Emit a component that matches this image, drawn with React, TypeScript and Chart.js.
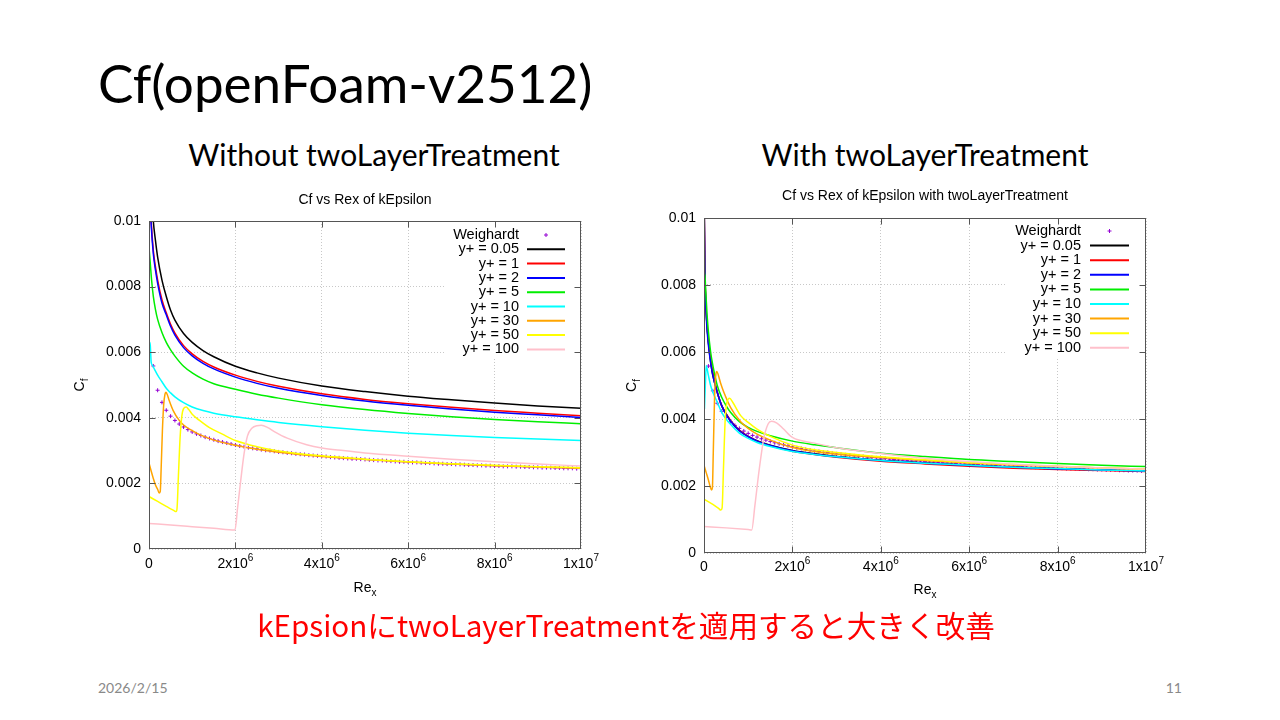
import React, { useEffect, useRef } from "react";
import { Chart, registerables } from "chart.js";

Chart.register(...registerables);

// ---------- shared axis / legend data ----------
const X_TICKS = [0, 2e6, 4e6, 6e6, 8e6, 1e7];
const X_TICK_BASE = ["0", "2x10", "4x10", "6x10", "8x10", "1x10"];
const X_TICK_EXP = ["", "6", "6", "6", "6", "7"];
const Y_TICKS = [0, 0.002, 0.004, 0.006, 0.008, 0.01];
const SERIES_LABELS = ["Weighardt", "y+ = 0.05", "y+ = 1", "y+ = 2", "y+ = 5", "y+ = 10", "y+ = 30", "y+ = 50", "y+ = 100"];
const SERIES_COLORS = ["#9400d3", "#000000", "#ff0000", "#0000ff", "#00ee00", "#00ffff", "#ffa500", "#ffff00", "#ffc0cb"];

// ---------- Weighardt reference points (Re in millions) ----------
const WEIGHARDT_RE = [
  0.1, 0.2, 0.3, 0.4, 0.5, 0.6, 0.7, 0.8, 0.9, 1.0,
  1.1, 1.2, 1.3, 1.4, 1.5, 1.6, 1.7, 1.8, 1.9, 2.0,
  2.1, 2.2, 2.3, 2.4, 2.5, 2.6, 2.7, 2.8, 2.9, 3.0,
  3.1, 3.2, 3.3, 3.4, 3.5, 3.6, 3.7, 3.8, 3.9, 4.0,
  4.1, 4.2, 4.3, 4.4, 4.5, 4.6, 4.7, 4.8, 4.9, 5.0,
  5.1, 5.2, 5.3, 5.4, 5.5, 5.6, 5.7, 5.8, 5.9, 6.0,
  6.1, 6.2, 6.3, 6.4, 6.5, 6.6, 6.7, 6.8, 6.9, 7.0,
  7.1, 7.2, 7.3, 7.4, 7.5, 7.6, 7.7, 7.8, 7.9, 8.0,
  8.1, 8.2, 8.3, 8.4, 8.5, 8.6, 8.7, 8.8, 8.9, 9.0,
  9.1, 9.2, 9.3, 9.4, 9.5, 9.6, 9.7, 9.8, 9.9, 10.0,
];
const WEIGHARDT_CF = [
  0.00558, 0.00484, 0.00447, 0.00423, 0.00405, 0.00392, 0.00381, 0.00372, 0.00364, 0.00357,
  0.00351, 0.00346, 0.00341, 0.00337, 0.00333, 0.00329, 0.00326, 0.00323, 0.0032, 0.00317,
  0.00314, 0.00312, 0.00309, 0.00307, 0.00305, 0.00303, 0.00301, 0.003, 0.00298, 0.00296,
  0.00295, 0.00293, 0.00292, 0.0029, 0.00289, 0.00288, 0.00286, 0.00285, 0.00284, 0.00283,
  0.00282, 0.0028, 0.00279, 0.00278, 0.00277, 0.00276, 0.00275, 0.00275, 0.00274, 0.00273,
  0.00272, 0.00271, 0.0027, 0.0027, 0.00269, 0.00268, 0.00267, 0.00266, 0.00266, 0.00265,
  0.00264, 0.00264, 0.00263, 0.00262, 0.00262, 0.00261, 0.0026, 0.0026, 0.00259, 0.00259,
  0.00258, 0.00258, 0.00257, 0.00256, 0.00256, 0.00255, 0.00255, 0.00254, 0.00254, 0.00253,
  0.00253, 0.00252, 0.00252, 0.00252, 0.00251, 0.00251, 0.0025, 0.0025, 0.00249, 0.00249,
  0.00248, 0.00248, 0.00248, 0.00247, 0.00247, 0.00246, 0.00246, 0.00246, 0.00245, 0.00245,
];

// ---------- Left chart: kEpsilon (Re in millions) ----------
const L_SMOOTH_RE = [0.05, 0.1, 0.15, 0.2, 0.3, 0.4, 0.5, 0.6, 0.8, 1.0, 1.25, 1.5, 2, 2.5, 3, 4, 5, 6, 7, 8, 9, 10];
const L_BLACK_CF = [0.0112, 0.01, 0.0094, 0.0089, 0.0082, 0.0077, 0.00728, 0.00698, 0.00657, 0.0063, 0.00605, 0.00586, 0.00557, 0.00537, 0.00521, 0.00497, 0.0048, 0.00466, 0.00455, 0.00445, 0.00436, 0.00429];
const L_RB_RE = [0.03, 0.05, 0.1, 0.15, 0.2, 0.3, 0.4, 0.5, 0.6, 0.8, 1.0, 1.25, 1.5, 2, 2.5, 3, 4, 5, 6, 7, 8, 9, 10];
const L_RED_CF = [0.0106, 0.01, 0.0091, 0.0086, 0.0082, 0.0076, 0.0072, 0.00685, 0.00658, 0.0062, 0.00595, 0.00572, 0.00555, 0.0053, 0.00511, 0.00496, 0.00473, 0.00456, 0.00443, 0.00432, 0.00422, 0.00414, 0.00406];
const L_BLUE_CF = [0.0105, 0.0099, 0.009, 0.0085, 0.0081, 0.0075, 0.00714, 0.00679, 0.00652, 0.00614, 0.00589, 0.00566, 0.00549, 0.00524, 0.00505, 0.0049, 0.00468, 0.00451, 0.00438, 0.00427, 0.00417, 0.00409, 0.00401];
const L_GREEN_RE = [0, 0.03, 0.06, 0.1, 0.15, 0.2, 0.3, 0.4, 0.5, 0.6, 0.8, 1.0, 1.25, 1.5, 2, 2.5, 3, 4, 5, 6, 7, 8, 9, 10];
const L_GREEN_CF = [0.0092, 0.0087, 0.0082, 0.0077, 0.0073, 0.007, 0.0066, 0.0063, 0.00607, 0.00588, 0.00557, 0.00537, 0.00518, 0.00504, 0.00487, 0.00472, 0.0046, 0.0044, 0.00425, 0.00413, 0.00403, 0.00395, 0.00388, 0.00382];
const L_CYAN_RE = [0, 0.015, 0.03, 0.05, 0.08, 0.12, 0.2, 0.3, 0.4, 0.5, 0.6, 0.8, 1.0, 1.25, 1.5, 2, 2.5, 3, 4, 5, 6, 7, 8, 9, 10];
const L_CYAN_CF = [0.006, 0.0063, 0.0062, 0.0057, 0.0056, 0.0055, 0.0053, 0.0051, 0.0049, 0.00476, 0.00464, 0.00446, 0.00433, 0.00422, 0.00414, 0.00403, 0.00394, 0.00386, 0.00373, 0.00362, 0.00353, 0.00346, 0.0034, 0.00335, 0.00331];
const L_ORANGE_RE = [0, 0.05, 0.1, 0.15, 0.2, 0.235, 0.26, 0.28, 0.31, 0.34, 0.37, 0.39, 0.42, 0.47, 0.56, 0.7, 0.8, 1.0, 1.2, 1.5, 2, 2.5, 3, 4, 5, 6, 7, 8, 9, 10];
const L_ORANGE_CF = [0.00262, 0.00238, 0.00215, 0.00195, 0.00182, 0.00171, 0.00175, 0.0024, 0.0036, 0.0044, 0.00472, 0.00478, 0.00472, 0.00452, 0.00422, 0.00392, 0.00378, 0.00361, 0.00347, 0.00332, 0.00316, 0.00304, 0.00295, 0.00282, 0.00273, 0.00265, 0.00259, 0.00254, 0.0025, 0.00246];
const L_YELLOW_RE = [0, 0.2, 0.4, 0.55, 0.6, 0.63, 0.65, 0.68, 0.72, 0.76, 0.8, 0.86, 0.92, 1.0, 1.1, 1.2, 1.4, 1.7, 2, 2.5, 3, 4, 5, 6, 7, 8, 9, 10];
const L_YELLOW_CF = [0.0016, 0.00145, 0.0013, 0.00119, 0.00115, 0.00114, 0.00125, 0.0022, 0.0034, 0.00405, 0.00428, 0.00433, 0.00425, 0.00411, 0.00399, 0.00389, 0.0037, 0.0035, 0.00331, 0.00312, 0.00299, 0.00284, 0.00274, 0.00266, 0.0026, 0.00255, 0.00251, 0.00248];
const L_PINK_RE = [0, 0.5, 1.0, 1.5, 1.99, 2.05, 2.12, 2.2, 2.28, 2.38, 2.5, 2.6, 2.75, 2.9, 3.2, 3.65, 4.0, 4.5, 5, 6, 7, 8, 9, 10];
const L_PINK_CF = [0.00078, 0.00073, 0.00068, 0.00063, 0.00058, 0.00125, 0.00205, 0.0029, 0.00345, 0.00368, 0.00376, 0.00377, 0.0037, 0.00358, 0.00338, 0.00318, 0.00308, 0.003, 0.00293, 0.00283, 0.00274, 0.00266, 0.00259, 0.00253];

// ---------- Right chart: kEpsilon with twoLayerTreatment (Re in millions) ----------
const R_CLUSTER_RE = [0, 0.02, 0.05, 0.1, 0.15, 0.2, 0.3, 0.4, 0.5, 0.6, 0.8, 1.0, 1.2, 1.5, 2, 2.5, 3, 4, 5, 6, 7, 8, 9, 10];
const R_BLACK_CF = [0.011, 0.0085, 0.0072, 0.0063, 0.0057, 0.0053, 0.0048, 0.0044, 0.00415, 0.00395, 0.00366, 0.00348, 0.00335, 0.00322, 0.00306, 0.00296, 0.00288, 0.00277, 0.00269, 0.00262, 0.00256, 0.00252, 0.00248, 0.00245];
const R_RED_CF = [0.011, 0.0085, 0.0072, 0.0063, 0.0058, 0.0054, 0.0048, 0.0044, 0.00416, 0.00396, 0.00366, 0.00348, 0.00334, 0.0032, 0.00304, 0.00294, 0.00286, 0.00274, 0.00266, 0.00259, 0.00253, 0.00249, 0.00246, 0.00243];
const R_BLUE_CF = [0.011, 0.0084, 0.0071, 0.0062, 0.0057, 0.0053, 0.0048, 0.0044, 0.00414, 0.00394, 0.00365, 0.00347, 0.00334, 0.00321, 0.00305, 0.00295, 0.00287, 0.00276, 0.00268, 0.00261, 0.00256, 0.00251, 0.00248, 0.00245];
const R_GREEN_RE = [0, 0.01, 0.02, 0.04, 0.07, 0.1, 0.15, 0.2, 0.3, 0.4, 0.5, 0.6, 0.8, 1.0, 1.2, 1.5, 2, 2.5, 3, 4, 5, 6, 7, 8, 9, 10];
const R_GREEN_CF = [0.0105, 0.0084, 0.0083, 0.0078, 0.0071, 0.0066, 0.006, 0.0056, 0.005, 0.00465, 0.0044, 0.0042, 0.00392, 0.00375, 0.00363, 0.0035, 0.00334, 0.00323, 0.00314, 0.00298, 0.00288, 0.00279, 0.00273, 0.00267, 0.00262, 0.00258];
const R_CYAN_RE = [0.01, 0.03, 0.05, 0.07, 0.1, 0.15, 0.2, 0.3, 0.4, 0.5, 0.6, 0.8, 1.0, 1.2, 1.5, 2, 2.5, 3, 4, 5, 6, 7, 8, 9, 10];
const R_CYAN_CF = [0.0043, 0.005, 0.0056, 0.0055, 0.0053, 0.005, 0.0048, 0.0045, 0.0042, 0.004, 0.00384, 0.00358, 0.00342, 0.0033, 0.00318, 0.00303, 0.00294, 0.00287, 0.00276, 0.00268, 0.00262, 0.00256, 0.00252, 0.00248, 0.00245];
const R_ORANGE_RE = [0, 0.05, 0.1, 0.14, 0.17, 0.19, 0.21, 0.24, 0.27, 0.29, 0.32, 0.38, 0.44, 0.6, 0.83, 1.0, 1.2, 1.5, 2, 2.5, 3, 4, 5, 6, 7, 8, 9, 10];
const R_ORANGE_CF = [0.00262, 0.0024, 0.00218, 0.00198, 0.00188, 0.00195, 0.003, 0.0047, 0.00535, 0.00542, 0.00533, 0.00505, 0.00483, 0.00435, 0.00392, 0.00372, 0.00355, 0.00337, 0.00315, 0.00303, 0.00295, 0.00285, 0.00276, 0.00269, 0.00263, 0.00258, 0.00254, 0.0025];
const R_YELLOW_RE = [0, 0.2, 0.33, 0.38, 0.41, 0.44, 0.48, 0.52, 0.58, 0.65, 0.83, 1.0, 1.2, 1.5, 2, 2.5, 3, 4, 5, 6, 7, 8, 9, 10];
const R_YELLOW_CF = [0.00161, 0.00145, 0.00133, 0.00128, 0.00135, 0.0025, 0.004, 0.0045, 0.00462, 0.0045, 0.0041, 0.0039, 0.0037, 0.00348, 0.00322, 0.00308, 0.003, 0.00287, 0.00278, 0.0027, 0.00264, 0.00259, 0.00254, 0.0025];
const R_PINK_RE = [0, 0.5, 1.0, 1.08, 1.15, 1.25, 1.35, 1.45, 1.53, 1.65, 1.8, 2, 2.5, 3, 4, 5, 6, 7, 8, 9, 10];
const R_PINK_CF = [0.00079, 0.00075, 0.0007, 0.00069, 0.0014, 0.0025, 0.0034, 0.00385, 0.00393, 0.00388, 0.0037, 0.00345, 0.00328, 0.00314, 0.00297, 0.00283, 0.00273, 0.00265, 0.00259, 0.00254, 0.0025];

// ---------- layout specs ----------
type Series = { x: number[]; y: number[] };
type LegendSpec = { boxLeft: number; boxBottom: number; textRight: number; lineStart: number; lineEnd: number; rowTop: number; rowStep: number };
type ChartSpec = {
  left: number; top: number; width: number; height: number;
  padTop: number; padRight: number; yWidth: number; xHeight: number;
  title: string; titleY: number; xTitleY: number; yTitleX: number; xTickY: number;
  lines: Series[];
  legend: LegendSpec;
};

const FONT = "'Liberation Sans', Arial, Helvetica, sans-serif";

const LEFT_SPEC: ChartSpec = {
  left: 60, top: 185, width: 560, height: 420,
  padTop: 36, padRight: 39, yWidth: 89, xHeight: 56,
  title: "Cf vs Rex of kEpsilon", titleY: 200, xTitleY: 588, yTitleX: 80, xTickY: 564,
  lines: [
    { x: L_SMOOTH_RE, y: L_BLACK_CF },
    { x: L_RB_RE, y: L_RED_CF },
    { x: L_RB_RE, y: L_BLUE_CF },
    { x: L_GREEN_RE, y: L_GREEN_CF },
    { x: L_CYAN_RE, y: L_CYAN_CF },
    { x: L_ORANGE_RE, y: L_ORANGE_CF },
    { x: L_YELLOW_RE, y: L_YELLOW_CF },
    { x: L_PINK_RE, y: L_PINK_CF },
  ],
  legend: { boxLeft: 445, boxBottom: 358, textRight: 519, lineStart: 527, lineEnd: 565, rowTop: 235, rowStep: 14.3 },
};

const RIGHT_SPEC: ChartSpec = {
  left: 620, top: 180, width: 560, height: 430,
  padTop: 38, padRight: 34, yWidth: 84, xHeight: 57,
  title: "Cf vs Rex of kEpsilon with twoLayerTreatment", titleY: 196, xTitleY: 590, yTitleX: 632, xTickY: 567,
  lines: [
    { x: R_CLUSTER_RE, y: R_BLACK_CF },
    { x: R_CLUSTER_RE, y: R_RED_CF },
    { x: R_CLUSTER_RE, y: R_BLUE_CF },
    { x: R_GREEN_RE, y: R_GREEN_CF },
    { x: R_CYAN_RE, y: R_CYAN_CF },
    { x: R_ORANGE_RE, y: R_ORANGE_CF },
    { x: R_YELLOW_RE, y: R_YELLOW_CF },
    { x: R_PINK_RE, y: R_PINK_CF },
  ],
  legend: { boxLeft: 1005, boxBottom: 357, textRight: 1081, lineStart: 1090, lineEnd: 1129, rowTop: 231, rowStep: 14.6 },
};

function toPoints(xs: number[], ys: number[]) {
  return xs.map((x, i) => ({ x: x * 1e6, y: ys[i] }));
}

function makeOverlay(spec: ChartSpec) {
  return {
    id: "gnuplotOverlay",
    afterDatasetsDraw(chart: any) {
      const ctx: CanvasRenderingContext2D = chart.ctx;
      const a = chart.chartArea;
      const xs = chart.scales.x;
      const ys = chart.scales.y;
      const ox = spec.left;
      const oy = spec.top;
      const L = spec.legend;
      ctx.save();

      // opaque key box
      ctx.fillStyle = "#ffffff";
      ctx.fillRect(L.boxLeft - ox, a.top, a.right - (L.boxLeft - ox), L.boxBottom - oy - a.top);

      // key entries
      ctx.font = `14.5px ${FONT}`;
      ctx.textAlign = "right";
      ctx.textBaseline = "middle";
      SERIES_LABELS.forEach((lab, i) => {
        const y = L.rowTop + i * L.rowStep - oy;
        ctx.fillStyle = "#000";
        ctx.fillText(lab, L.textRight - ox, y);
        ctx.strokeStyle = SERIES_COLORS[i];
        if (i === 0) {
          const cx = (L.lineStart + L.lineEnd) / 2 - ox;
          ctx.lineWidth = 1;
          ctx.beginPath();
          ctx.moveTo(cx - 2, y);
          ctx.lineTo(cx + 2, y);
          ctx.moveTo(cx, y - 2);
          ctx.lineTo(cx, y + 2);
          ctx.stroke();
        } else {
          ctx.lineWidth = 2;
          ctx.beginPath();
          ctx.moveTo(L.lineStart - ox, y);
          ctx.lineTo(L.lineEnd - ox, y);
          ctx.stroke();
        }
      });

      // border box
      ctx.strokeStyle = "#555";
      ctx.lineWidth = 1;
      const l = Math.round(a.left) + 0.5;
      const r = Math.round(a.right) - 0.5;
      const t = Math.round(a.top) + 0.5;
      const b = Math.round(a.bottom) - 0.5;
      ctx.strokeRect(l, t, r - l, b - t);

      // inward ticks on all four sides
      const TL = 6;
      ctx.beginPath();
      X_TICKS.forEach((v) => {
        const px = Math.round(xs.getPixelForValue(v)) + 0.5;
        if (px <= l + 1 || px >= r - 1) return;
        ctx.moveTo(px, b);
        ctx.lineTo(px, b - TL);
        ctx.moveTo(px, t);
        ctx.lineTo(px, t + TL);
      });
      Y_TICKS.forEach((v) => {
        const py = Math.round(ys.getPixelForValue(v)) + 0.5;
        if (py <= t + 1 || py >= b - 1) return;
        ctx.moveTo(l, py);
        ctx.lineTo(l + TL, py);
        ctx.moveTo(r, py);
        ctx.lineTo(r - TL, py);
      });
      ctx.stroke();

      // x tick labels with exponents
      ctx.fillStyle = "#000";
      ctx.textAlign = "left";
      ctx.textBaseline = "middle";
      X_TICKS.forEach((v, i) => {
        const px = xs.getPixelForValue(v);
        ctx.font = `14px ${FONT}`;
        const w1 = ctx.measureText(X_TICK_BASE[i]).width;
        ctx.font = `10px ${FONT}`;
        const w2 = X_TICK_EXP[i] ? ctx.measureText(X_TICK_EXP[i]).width : 0;
        const x0 = px - (w1 + w2) / 2;
        const y0 = spec.xTickY - oy;
        ctx.font = `14px ${FONT}`;
        ctx.fillText(X_TICK_BASE[i], x0, y0);
        if (X_TICK_EXP[i]) {
          ctx.font = `10px ${FONT}`;
          ctx.fillText(X_TICK_EXP[i], x0 + w1, y0 - 6);
        }
      });

      // chart title
      const cx = (a.left + a.right) / 2;
      ctx.font = `14px ${FONT}`;
      ctx.textAlign = "center";
      ctx.fillText(spec.title, cx, spec.titleY - oy);

      // x axis title Re_x
      ctx.font = `14px ${FONT}`;
      const wRe = ctx.measureText("Re").width;
      ctx.font = `10px ${FONT}`;
      const wx = ctx.measureText("x").width;
      const rx0 = cx - (wRe + wx) / 2;
      ctx.textAlign = "left";
      ctx.font = `14px ${FONT}`;
      ctx.fillText("Re", rx0, spec.xTitleY - oy);
      ctx.font = `10px ${FONT}`;
      ctx.fillText("x", rx0 + wRe, spec.xTitleY - oy + 5);

      // y axis title C_f (rotated)
      const cy = (a.top + a.bottom) / 2;
      ctx.save();
      ctx.translate(spec.yTitleX - ox, cy);
      ctx.rotate(-Math.PI / 2);
      ctx.font = `14px ${FONT}`;
      const wC = ctx.measureText("C").width;
      ctx.font = `10px ${FONT}`;
      const wf = ctx.measureText("f").width;
      const c0 = -(wC + wf) / 2;
      ctx.font = `14px ${FONT}`;
      ctx.fillText("C", c0, 0);
      ctx.font = `10px ${FONT}`;
      ctx.fillText("f", c0 + wC, 5);
      ctx.restore();

      ctx.restore();
    },
  };
}

function CfChart({ spec }: { spec: ChartSpec }) {
  const ref = useRef<HTMLCanvasElement | null>(null);
  useEffect(() => {
    if (!ref.current) return;
    const datasets: any[] = [
      {
        label: SERIES_LABELS[0],
        data: toPoints(WEIGHARDT_RE, WEIGHARDT_CF),
        showLine: false,
        pointStyle: "cross",
        pointRadius: 2,
        pointBorderWidth: 1,
        borderColor: SERIES_COLORS[0],
        backgroundColor: SERIES_COLORS[0],
        order: 100,
      },
      ...spec.lines.map((s, i) => ({
        label: SERIES_LABELS[i + 1],
        data: toPoints(s.x, s.y),
        borderColor: SERIES_COLORS[i + 1],
        backgroundColor: SERIES_COLORS[i + 1],
        borderWidth: 1.5,
        pointRadius: 0,
        cubicInterpolationMode: "monotone",
        fill: false,
        order: 99 - i,
      })),
    ];
    const gridCommon = { color: "#c8c8c8", lineWidth: 1, drawTicks: false };
    const chart = new Chart(ref.current, {
      type: "line",
      data: { datasets },
      options: {
        responsive: false,
        animation: false,
        devicePixelRatio: 1,
        layout: { padding: { top: spec.padTop, right: spec.padRight, left: 0, bottom: 0 } },
        plugins: { legend: { display: false }, tooltip: { enabled: false }, title: { display: false } },
        scales: {
          x: {
            type: "linear",
            min: 0,
            max: 1e7,
            afterBuildTicks: (s: any) => {
              s.ticks = X_TICKS.map((v) => ({ value: v }));
            },
            afterFit: (s: any) => {
              s.height = spec.xHeight;
            },
            ticks: { display: false },
            grid: gridCommon,
            border: { display: false, dash: [1, 2] },
          },
          y: {
            type: "linear",
            min: 0,
            max: 0.01,
            afterBuildTicks: (s: any) => {
              s.ticks = Y_TICKS.map((v) => ({ value: v }));
            },
            afterFit: (s: any) => {
              s.width = spec.yWidth;
            },
            ticks: {
              color: "#000",
              padding: 8,
              font: { family: FONT, size: 14 },
              callback: (v: any) => String(Number(Number(v).toFixed(4))),
            },
            grid: gridCommon,
            border: { display: false, dash: [1, 2] },
          },
        },
      } as any,
      plugins: [makeOverlay(spec)],
    });
    return () => chart.destroy();
  }, [spec]);
  return (
    <canvas
      ref={ref}
      width={spec.width}
      height={spec.height}
      style={{ position: "absolute", left: spec.left, top: spec.top, width: spec.width, height: spec.height }}
    />
  );
}

export default function App() {
  return (
    <div style={{ position: "fixed", left: 0, top: 0, width: 1280, height: 720, background: "#fff", overflow: "hidden" }}>
      <div style={{ position: "absolute", left: 98, top: 56, fontFamily: "Lato", fontSize: 53, lineHeight: "53px", whiteSpace: "nowrap", color: "#000" }}>
        Cf(openFoam-v2512)
      </div>
      <div style={{ position: "absolute", left: 174, width: 400, top: 139, textAlign: "center", fontFamily: "Lato", fontSize: 30, lineHeight: "30px", whiteSpace: "nowrap", color: "#000" }}>
        Without twoLayerTreatment
      </div>
      <div style={{ position: "absolute", left: 725, width: 400, top: 139, textAlign: "center", fontFamily: "Lato", fontSize: 30, lineHeight: "30px", whiteSpace: "nowrap", color: "#000" }}>
        With twoLayerTreatment
      </div>
      <CfChart spec={LEFT_SPEC} />
      <CfChart spec={RIGHT_SPEC} />
      <div style={{ position: "absolute", left: 226, width: 800, top: 610, textAlign: "center", fontFamily: "'Noto Sans CJK JP'", fontSize: 29.6, lineHeight: "29.6px", whiteSpace: "nowrap", color: "#ff0000" }}>
        kEpsionにtwoLayerTreatmentを適用すると大きく改善
      </div>
      <div style={{ position: "absolute", left: 98, top: 681, fontFamily: "Lato", fontSize: 14, lineHeight: "14px", color: "#898989", whiteSpace: "nowrap" }}>
        2026/2/15
      </div>
      <div style={{ position: "absolute", left: 1132, width: 50, top: 681, textAlign: "right", fontFamily: "Lato", fontSize: 14, lineHeight: "14px", color: "#898989", whiteSpace: "nowrap" }}>
        11
      </div>
    </div>
  );
}
